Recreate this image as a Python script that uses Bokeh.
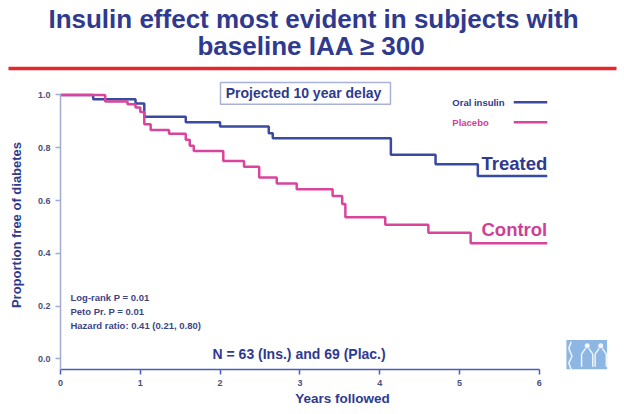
from bokeh.plotting import figure
from bokeh.layouts import column
from bokeh.models import Range1d, FixedTicker, PrintfTickFormatter
from bokeh.core.properties import value
from bokeh.embed import file_html
from bokeh.resources import INLINE

FONT = "Liberation Sans"
NAVY = "#2f3a8f"
BLUE = "#3a4aa0"
PINK = "#d9459c"
PINK_TXT = "#cf3f96"
TICK_TXT = "#4b5080"

# ---------------- data ----------------
title_lines = ["Insulin effect most evident in subjects with", "baseline IAA \u2265 300"]

oral_years = [0.0, 0.41, 0.94, 1.05, 1.57, 2.00, 2.61, 2.66, 4.14, 4.70, 5.23, 6.10]
oral_surv = [1.000, 0.984, 0.968, 0.917, 0.897, 0.880, 0.855, 0.836, 0.773, 0.737, 0.693, 0.693]

placebo_years = [0.0, 0.56, 0.84, 0.94, 1.00, 1.05, 1.13, 1.36, 1.57, 1.62, 1.67,
                 2.04, 2.30, 2.49, 2.71, 2.96, 3.41, 3.53, 3.57, 4.07, 4.61, 5.14, 6.10]
placebo_surv = [1.000, 0.975, 0.965, 0.952, 0.935, 0.889, 0.867, 0.853, 0.830, 0.808, 0.788,
                0.750, 0.728, 0.687, 0.665, 0.643, 0.617, 0.587, 0.537, 0.508, 0.478, 0.438, 0.438]

series_names = ["Oral insulin", "Placebo"]
end_labels = ["Treated", "Control"]
x_ticks = [0, 1, 2, 3, 4, 5, 6]
y_ticks = [0.0, 0.2, 0.4, 0.6, 0.8, 1.0]
stats_lines = ["Log-rank P = 0.01", "Peto Pr. P = 0.01", "Hazard ratio: 0.41 (0.21, 0.80)"]
n_note = "N = 63 (Ins.) and 69 (Plac.)"
box_note = "Projected  10 year delay"
x_label = "Years followed"
y_label = "Proportion free of diabetes"

# ---------------- title strip ----------------
top = figure(width=624, height=80, x_range=Range1d(0, 624), y_range=Range1d(80, 0),
             output_backend="svg", toolbar_location=None, min_border=0,
             x_axis_type=None, y_axis_type=None)
top.grid.visible = False
top.outline_line_color = None
top.text(x=[313, 311], y=[18, 45], text=title_lines, text_font=value(FONT),
         text_font_style="bold", text_font_size="26px", text_color=NAVY,
         text_align="center", text_baseline="middle")
top.segment(x0=[8], y0=[68], x1=[616], y1=[68], line_color="#e8262c", line_width=3.5)

# ---------------- main chart ----------------
p = figure(width=624, height=334, x_range=Range1d(0, 7.068), y_range=Range1d(-0.04, 1.0547),
           output_backend="svg", toolbar_location=None,
           min_border_left=60, min_border_right=0, min_border_top=0, min_border_bottom=45)
p.grid.visible = False
p.outline_line_color = None

# keep the title strip's frame independent of the chart's frame
try:
    top.frame_align = False
    p.frame_align = False
except Exception:
    pass

p.step(oral_years, oral_surv, mode="after", line_color=BLUE, line_width=2.5)
p.step(placebo_years, placebo_surv, mode="after", line_color=PINK, line_width=2.5)

# x axis
xa = p.xaxis[0]
xa.bounds = (0, 6)
xa.ticker = FixedTicker(ticks=x_ticks)
xa.axis_line_color = "#4a5cc0"
xa.axis_line_width = 1.5
xa.major_tick_line_color = "#4a5cc0"
xa.major_tick_line_width = 1.5
xa.major_tick_out = 5
xa.major_tick_in = 0
xa.minor_tick_line_color = None
xa.major_label_text_font = FONT
xa.major_label_text_font_style = "bold"
xa.major_label_text_font_size = "9px"
xa.major_label_text_color = TICK_TXT
xa.major_label_standoff = 5
xa.axis_label = x_label
xa.axis_label_text_font = FONT
xa.axis_label_text_font_style = "bold"
xa.axis_label_text_font_size = "13.5px"
xa.axis_label_text_color = NAVY
xa.axis_label_standoff = 2

# y axis
ya = p.yaxis[0]
ya.bounds = (-0.04, 1.0)
ya.ticker = FixedTicker(ticks=y_ticks)
ya.formatter = PrintfTickFormatter(format="%.1f")
ya.axis_line_color = "#a3abd4"
ya.axis_line_width = 1.5
ya.major_tick_line_color = "#a3abd4"
ya.major_tick_line_width = 1.5
ya.major_tick_out = 5
ya.major_tick_in = 0
ya.minor_tick_line_color = None
ya.major_label_text_font = FONT
ya.major_label_text_font_style = "bold"
ya.major_label_text_font_size = "9px"
ya.major_label_text_color = TICK_TXT
ya.major_label_standoff = 5
ya.axis_label = y_label
ya.axis_label_text_font = FONT
ya.axis_label_text_font_style = "bold"
ya.axis_label_text_font_size = "13px"
ya.axis_label_text_color = NAVY
ya.axis_label_standoff = 11

# projected delay box
p.rect(x=[3.07], y=[1.006], width=[2.13], height=[0.083], fill_color="white",
       line_color="#a9b1d6", line_width=1.5)
p.text(x=[3.07], y=[1.006], text=[box_note], text_font=value(FONT), text_font_style="bold",
       text_font_size="14px", text_color=NAVY, text_align="center", text_baseline="middle")

# legend (label left of line)
p.text(x=[4.91, 4.91], y=[0.972, 0.897], text=series_names, text_font=value(FONT),
       text_font_style="bold", text_font_size="9.5px", text_color=[NAVY, PINK_TXT],
       text_align="left", text_baseline="middle")
p.segment(x0=[5.68, 5.68], y0=[0.972, 0.897], x1=[6.10, 6.10], y1=[0.972, 0.897],
          line_color=[BLUE, PINK], line_width=2.5)

# end labels
p.text(x=[6.1, 6.1], y=[0.740, 0.490], text=end_labels, text_font=value(FONT),
       text_font_style="bold", text_font_size="18.5px", text_color=[NAVY, PINK_TXT],
       text_align="right", text_baseline="middle")

# stats
p.text(x=[0.125] * 3, y=[0.232, 0.181, 0.128], text=stats_lines, text_font=value(FONT),
       text_font_style="bold", text_font_size="9.5px", text_color="#3d4585",
       text_align="left", text_baseline="middle")

# N note
p.text(x=[2.99], y=[0.02], text=[n_note], text_font=value(FONT), text_font_style="bold",
       text_font_size="14px", text_color=NAVY, text_align="center", text_baseline="middle")

# logo (decorative)
p.quad(left=[6.34], right=[6.85], top=[0.072], bottom=[-0.04], fill_color="#8db6e2", line_color=None)
p.multi_line(xs=[[6.58, 6.53, 6.53], [6.62, 6.67, 6.67], [6.75, 6.70, 6.70], [6.79, 6.84, 6.84]],
             ys=[[0.040, 0.018, -0.03], [0.040, 0.018, -0.03], [0.040, 0.018, -0.03], [0.040, 0.018, -0.03]],
             line_color="#eef5ff", line_width=1.5)
p.scatter(x=[6.60, 6.77], y=[0.050, 0.050], size=5, fill_color="#eef5ff", line_color=None)
p.multi_line(xs=[[6.40, 6.37, 6.41, 6.37, 6.40]], ys=[[0.065, 0.04, 0.01, -0.015, -0.04]],
             line_color="#eef5ff", line_width=1.5)

layout = column(top, p)
open("out.html", "w").write(file_html(layout, INLINE))
